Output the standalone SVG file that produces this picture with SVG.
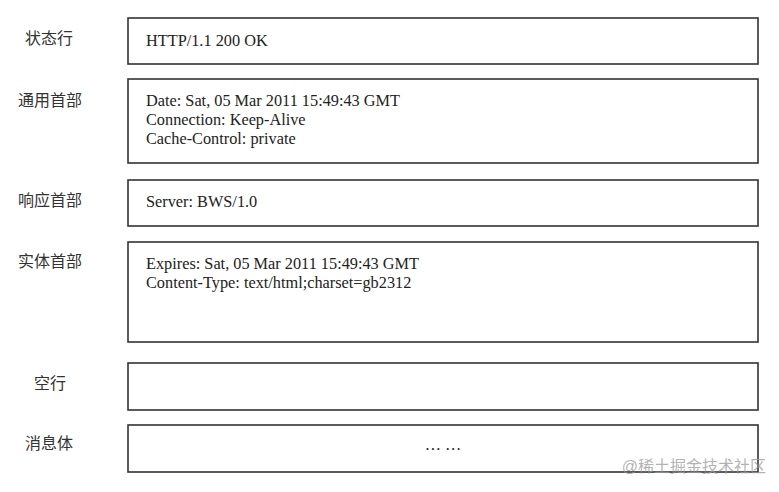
<svg xmlns="http://www.w3.org/2000/svg" width="779" height="492" viewBox="0 0 779 492">
<style>
.box{fill:#fff;stroke:#333;stroke-width:1.6}
.lbl{font-family:"Noto Sans CJK SC","Noto Sans",sans-serif;font-size:16px;fill:#333;text-anchor:middle}
.txt{font-family:"Liberation Serif","Times New Roman",serif;font-size:16.3px;fill:#222}
.wm{font-family:"Liberation Sans","Noto Sans CJK SC",sans-serif;font-size:16px;fill:#999;fill-opacity:0.75}
</style>
<rect width="779" height="492" fill="#fff"/>
<g id="status-line">
<text class="lbl" x="49" y="44">状态行</text>
<rect class="box" x="128" y="18" width="630" height="46"/>
<text class="txt" x="146" y="46">HTTP/1.1 200 OK</text>
</g>
<g id="general-header">
<text class="lbl" x="50" y="106">通用首部</text>
<rect class="box" x="128" y="79" width="630" height="84"/>
<text class="txt" x="146" y="106">Date: Sat, 05 Mar 2011 15:49:43 GMT</text>
<text class="txt" x="146" y="125">Connection: Keep-Alive</text>
<text class="txt" x="146" y="144">Cache-Control: private</text>
</g>
<g id="response-header">
<text class="lbl" x="50" y="206">响应首部</text>
<rect class="box" x="128" y="180" width="630" height="46"/>
<text class="txt" x="146" y="207">Server: BWS/1.0</text>
</g>
<g id="entity-header">
<text class="lbl" x="50" y="267">实体首部</text>
<rect class="box" x="128" y="242" width="630" height="100"/>
<text class="txt" x="146" y="269">Expires: Sat, 05 Mar 2011 15:49:43 GMT</text>
<text class="txt" x="146" y="288">Content-Type: text/html;charset=gb2312</text>
</g>
<g id="blank-line">
<text class="lbl" x="50" y="389">空行</text>
<rect class="box" x="128" y="363" width="630" height="47"/>
</g>
<g id="message-body">
<text class="lbl" x="49" y="449">消息体</text>
<rect class="box" x="128" y="425" width="630" height="47"/>
<text class="txt" x="443" y="450" text-anchor="middle">…  …</text>
</g>
<g id="connectors"></g>
<text class="wm" x="766" y="472" text-anchor="end">@稀土掘金技术社区</text>
</svg>
